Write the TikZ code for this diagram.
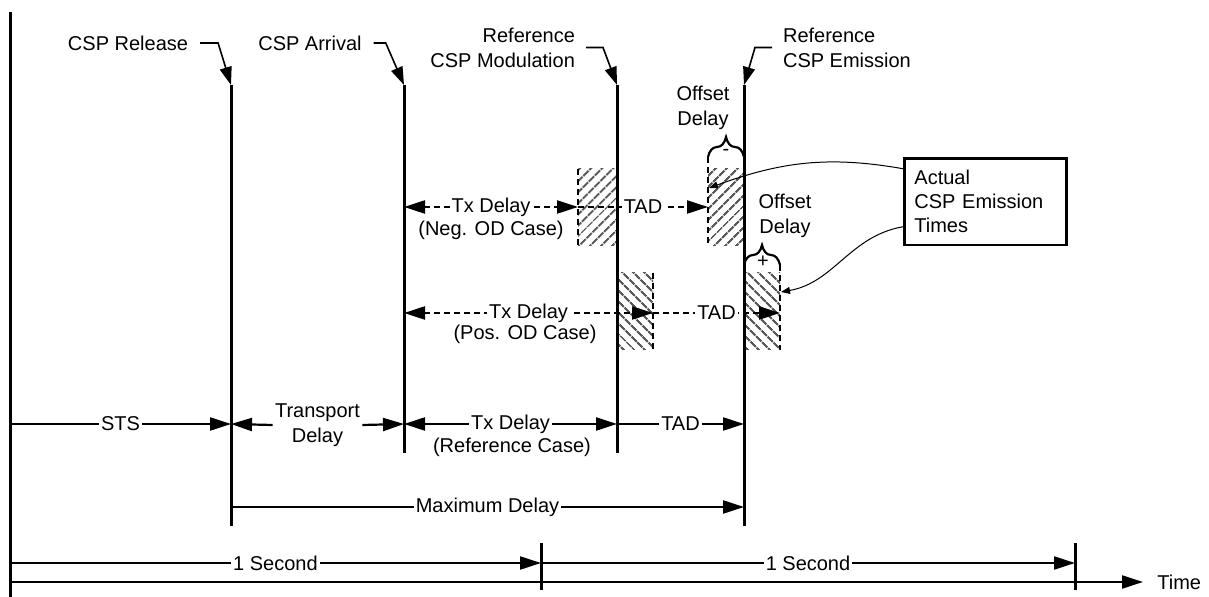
\documentclass[tikz,border=0pt]{standalone}
\usepackage{fontspec}
\setmainfont{Liberation Sans}
\usetikzlibrary{calc,positioning,arrows.meta,patterns.meta,decorations.pathreplacing}

\tikzset{
  tline/.style={line width=1.5pt},
  dimarr/.style={line width=1.1pt,-{Triangle[length=10.5pt,width=6.5pt]}},
  dimboth/.style={line width=1.1pt,{Triangle[length=10.5pt,width=6.5pt]}-{Triangle[length=10.5pt,width=6.5pt]}},
  dasharr/.style={dimarr,line width=1.1pt,dash pattern=on 3pt off 2pt},
  dashboth/.style={dimboth,line width=1.1pt,dash pattern=on 3pt off 2pt},
  dashln/.style={line width=1.1pt,dash pattern=on 3pt off 2pt},
  lab/.style={fill=white,inner sep=1pt},
  callout/.style={line width=0.8pt,-{Triangle[length=9pt,width=6pt]}},
  pointer/.style={line width=0.5pt,-{Triangle[length=4.5pt,width=3.5pt]}},
  negwin/.style={pattern={Lines[angle=45,distance=4pt,line width=1.1pt]},pattern color=black!65},
  poswin/.style={pattern={Lines[angle=-45,distance=4pt,line width=1.1pt]},pattern color=black!65},
  odbrace/.style={decorate,decoration={brace,amplitude=10pt},line width=1.1pt},
}

\begin{document}
\begin{tikzpicture}[x=0.5pt,y=-0.5pt,font=\fontsize{10}{12.5}\selectfont]
\useasboundingbox (0,0) rectangle (1209,597);
% event lines
\coordinate (axT) at (10,12);
\coordinate (axB) at (10,597);
\coordinate (relT) at (231,85);
\coordinate (relB) at (231,526);
\coordinate (arrT) at (404,85);
\coordinate (arrB) at (404,453);
\coordinate (modT) at (617,85);
\coordinate (modB) at (617,453);
\coordinate (emiT) at (744,85);
\coordinate (emiB) at (744,526);
% rows
\coordinate (rowNeg) at (0,207);
\coordinate (rowPos) at (0,313);
\coordinate (rowRef) at (0,424);
\coordinate (rowMax) at (0,507);
\coordinate (rowSec) at (0,563);
\coordinate (rowTime) at (0,582);
% emission windows
\coordinate (negM) at (578,169);
\coordinate (negE) at (708,157);
\coordinate (posM) at (653,273);
\coordinate (posE) at (780,265);
\fill[negwin] (negM) rectangle (modT |- 0,246);
\fill[negwin] (negE |- negM) rectangle (emiT |- 0,246);
\fill[poswin] (modT |- posM) rectangle (posM |- 0,350);
\fill[poswin] (emiT |- posM) rectangle (posE |- 0,350);
\draw[dashln] (negM) -- (negM |- 0,246);
\draw[dashln] (negE) -- (negE |- 0,246);
\draw[dashln] (posM) -- (posM |- 0,350);
\draw[dashln] (posE) -- (posE |- 0,350);

\draw[tline] (axT) -- (axB);
\draw[tline] (relT) -- (relB);
\draw[tline] (arrT) -- (arrB);
\draw[tline] (modT) -- (modB);
\draw[tline] (emiT) -- (emiB);

% top labels
\node (rellab) at (128,43) {CSP Release};
\node (arrlab) at (310,43) {CSP Arrival};
\node[align=right,anchor=east] (modlab) at (582,47.5) {Reference\\CSP Modulation};
\node[align=left,anchor=west] (emilab) at (776,47.5) {Reference\\CSP Emission};
\draw[callout] ([xshift=2.5pt]rellab.east) -- ++(18,0) -- (relT);
\draw[callout] ([xshift=2.5pt]arrlab.east) -- ++(12,0) -- (arrT);
\draw[callout] ([xshift=2pt]modlab.east) -- ++(17,0) -- (modT);
\draw[callout] ([xshift=-2pt]emilab.west) -- ++(-17,0) -- (emiT);

% offset delays
\node[align=center] (odneg) at (703,107.5) {Offset\\Delay};
\node[align=center] (odpos) at (785,216) {Offset\\Delay};
\draw[odbrace] (negE) -- (emiT |- negE);
\draw[odbrace] (emiT |- posE) -- (posE);
\path (726,152) node{-};
\path (763,262) node{+};

% negative / positive offset cases
\draw[dashboth] (arrT |- rowNeg) -- node[lab] (negtx) {Tx Delay} (negM |- rowNeg);
\draw[dasharr] (negM |- rowNeg) -- node[lab] {TAD} (negE |- rowNeg);
\path (491,230) node{(Neg. OD Case)};
\draw[dashboth] (arrT |- rowPos) -- node[lab] (postx) {Tx Delay} (posM |- rowPos);
\draw[dasharr] (posM |- rowPos) -- node[lab] {TAD} (posE |- rowPos);
\path (525,334) node{(Pos. OD Case)};

% reference case
\draw[dimarr] (axT |- rowRef) -- node[lab] {STS} (relT |- rowRef);
\node[align=center,inner xsep=1pt] (trans) at (317.5,425) {Transport\\Delay};
\draw[dimarr] (trans.west) -- (relT |- rowRef);
\draw[dimarr] (trans.east) -- (arrT |- rowRef);
\draw[dimboth] (arrT |- rowRef) -- node[lab] (reftx) {Tx Delay} (modT |- rowRef);
\path (512,447) node{(Reference Case)};
\draw[dimarr] (modT |- rowRef) -- node[lab] {TAD} (emiT |- rowRef);
\draw[dimarr] (relT |- rowMax) -- node[lab] {Maximum Delay} (emiT |- rowMax);

% seconds and time axis
\coordinate (secM) at (541,543);
\coordinate (secR) at (1075,543);
\draw[tline] (secM) -- ++(0,47);
\draw[tline] (secR) -- ++(0,47);
\draw[dimarr] (axT |- rowSec) -- node[lab] {1 Second} (secM |- rowSec);
\draw[dimarr] (secM |- rowSec) -- node[lab] {1 Second} (secR |- rowSec);
\node[anchor=west,inner xsep=7pt] (time) at (1143,582) {Time};
\draw[dimarr] (axT |- rowTime) -- (time.west);

% actual emission times
\node[draw,line width=1.4pt,align=left,text width=71pt,inner xsep=5pt,inner ysep=6pt,anchor=north west,font=\fontsize{10}{12}\selectfont] (actual) at (903,157) {Actual\\CSP Emission\\Times};
\coordinate (negtip) at (709,188);
\coordinate (postip) at (781,292);
\draw[pointer] ($(actual.west)+(0,-33)$) to[out=170,in=20] (negtip);
\draw[pointer] ($(actual.west)+(0,25)$) to[out=190,in=10] (postip);
\end{tikzpicture}
\end{document}
